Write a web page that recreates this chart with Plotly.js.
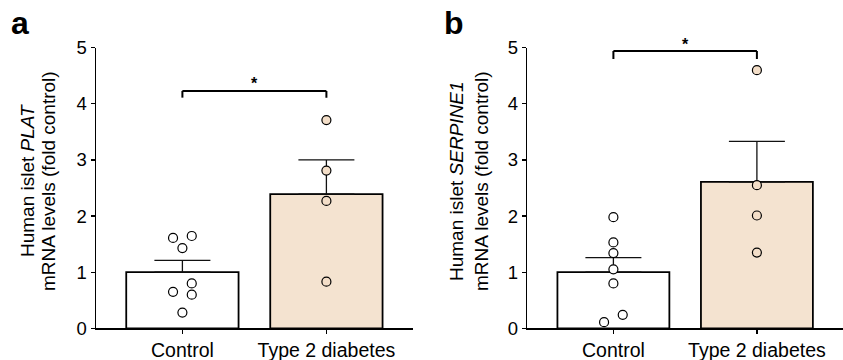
<!DOCTYPE html>
<html>
<head>
<meta charset="utf-8">
<script src="https://cdn.plot.ly/plotly-3.0.1.min.js"></script>
<style>html,body{margin:0;padding:0;background:#fff;}#chart{width:843px;height:360px;}</style>
</head>
<body>
<div id="chart"></div>
<script>
// ---- data ----
const categories = ['Control', 'Type 2 diabetes'];
const platControl = [1.61, 1.645, 1.43, 0.80, 0.65, 0.60, 0.28];
const platT2D = [3.71, 2.81, 2.27, 0.83];
const platMean = [1.00, 2.39];
const platSEM = [0.21, 0.61];
const serpControl = [1.98, 1.53, 1.34, 1.05, 0.80, 0.24, 0.11];
const serpT2D = [4.60, 2.55, 2.01, 1.35];
const serpMean = [1.00, 2.61];
const serpSEM = [0.26, 0.72];
const yTicks = [0, 1, 2, 3, 4, 5];
const platTitle = ['Human islet <i>PLAT</i>', 'mRNA levels (fold control)'];
const serpTitle = ['Human islet <i>SERPINE1</i>', 'mRNA levels (fold control)'];

// ---- styling / arrangement (not data) ----
const J = 0.065;
const platCtrlJitter = [-1, 1, 0, 1, -1, 1, 0];
const serpCtrlJitter = [0, 0, 0, 0, 0, 1, -1];
const zeroJitter4 = [0, 0, 0, 0];
const FONT = 'Arial, "Liberation Sans", sans-serif';
const beigeBar = '#F4E3D0';
const beigeDot = '#F3DEC8';
const yDom = [31.7 / 360, 312.3 / 360];
const yMax = 5;
function yPaper(v) { return yDom[0] + v / yMax * (yDom[1] - yDom[0]); }

function barTrace(mean, sem, xa, ya) {
  return {
    type: 'bar', x: [0, 1], y: mean, width: 0.78,
    xaxis: xa, yaxis: ya,
    marker: { color: ['#ffffff', beigeBar], line: { color: '#000', width: 1.8 } },
    error_y: { type: 'data', symmetric: false, array: sem, arrayminus: sem.map(() => 0),
               color: '#111', thickness: 1.3, width: 28 },
    hoverinfo: 'skip', showlegend: false
  };
}
function dotTrace(vals, jit, center, fill, xa, ya) {
  return {
    type: 'scatter', mode: 'markers',
    x: vals.map((v, i) => center + jit[i] * J), y: vals,
    xaxis: xa, yaxis: ya, cliponaxis: false,
    marker: { size: 9, color: fill, line: { color: '#000', width: 1.2 } },
    hoverinfo: 'skip', showlegend: false
  };
}

const data = [
  barTrace(platMean, platSEM, 'x', 'y'),
  dotTrace(platControl, platCtrlJitter, 0, '#ffffff', 'x', 'y'),
  dotTrace(platT2D, zeroJitter4, 1, beigeDot, 'x', 'y'),
  barTrace(serpMean, serpSEM, 'x2', 'y2'),
  dotTrace(serpControl, serpCtrlJitter, 0, '#ffffff', 'x2', 'y2'),
  dotTrace(serpT2D, zeroJitter4, 1, beigeDot, 'x2', 'y2')
];

function xAxis(domain, anchor) {
  return {
    domain: domain, anchor: anchor, range: [-0.6, 1.6],
    tickvals: [0, 1], ticktext: categories,
    ticks: 'outside', ticklen: 4, tickwidth: 1.2, tickcolor: '#000',
    showline: true, linecolor: '#000', linewidth: 1.5,
    showgrid: false, zeroline: false, fixedrange: true,
    tickfont: { family: FONT, size: 19.5, color: '#000' }
  };
}
function yAxis(anchor) {
  return {
    domain: yDom, anchor: anchor, range: [0, yMax],
    tickvals: yTicks, ticktext: yTicks.map(String),
    ticks: 'outside', ticklen: 4, tickwidth: 1.2, tickcolor: '#000',
    showline: true, linecolor: '#000', linewidth: 1.5,
    showgrid: false, zeroline: false, fixedrange: true,
    tickfont: { family: FONT, size: 18.5, color: '#000' }
  };
}

function bracket(xa, level, drop) {
  const s = { type: 'line', xref: xa, yref: 'paper', line: { color: '#000', width: 2 } };
  return [
    Object.assign({}, s, { x0: 0, x1: 1, y0: yPaper(level), y1: yPaper(level) }),
    Object.assign({}, s, { x0: 0, x1: 0, y0: yPaper(level), y1: yPaper(level - drop) }),
    Object.assign({}, s, { x0: 1, x1: 1, y0: yPaper(level), y1: yPaper(level - drop) })
  ];
}
function titleLines(lines, xs) {
  return lines.map((t, i) => ({
    xref: 'paper', yref: 'paper', x: xs[i] / 843, y: 1 - 181 / 360, xanchor: 'center', yanchor: 'middle',
    textangle: -90, text: t, showarrow: false, font: { family: FONT, size: 19, color: '#000' }
  }));
}

const layout = {
  width: 843, height: 360,
  margin: { l: 0, r: 0, t: 0, b: 0 },
  paper_bgcolor: '#fff', plot_bgcolor: 'rgba(0,0,0,0)',
  showlegend: false, bargap: 0,
  font: { family: FONT, color: '#000' },
  xaxis: xAxis([96 / 843, 412.8 / 843], 'y'),
  yaxis: yAxis('x'),
  xaxis2: xAxis([527.3 / 843, 843 / 843], 'y2'),
  yaxis2: yAxis('x2'),
  shapes: [].concat(bracket('x', 4.23, 0.12), bracket('x2', 4.94, 0.14)),
  annotations: [
    { xref: 'paper', yref: 'paper', x: 9 / 843, y: 1 - 3 / 360, xanchor: 'left', yanchor: 'top',
      text: '<b>a</b>', showarrow: false, font: { family: FONT, size: 32, color: '#000' } },
    { xref: 'paper', yref: 'paper', x: 442 / 843, y: 1 - 3 / 360, xanchor: 'left', yanchor: 'top',
      text: '<b>b</b>', showarrow: false, font: { family: FONT, size: 32, color: '#000' } },
    { xref: 'x', yref: 'paper', x: 0.5, y: yPaper(4.36), xanchor: 'center', yanchor: 'middle',
      text: '<b>*</b>', showarrow: false, font: { family: FONT, size: 16, color: '#000' } },
    { xref: 'x2', yref: 'paper', x: 0.5, y: yPaper(5.06), xanchor: 'center', yanchor: 'middle',
      text: '<b>*</b>', showarrow: false, font: { family: FONT, size: 16, color: '#000' } }
  ].concat(titleLines(platTitle, [27, 48]), titleLines(serpTitle, [456, 481]))
};

Plotly.newPlot('chart', data, layout, { displayModeBar: false, staticPlot: true });
</script>
</body>
</html>
